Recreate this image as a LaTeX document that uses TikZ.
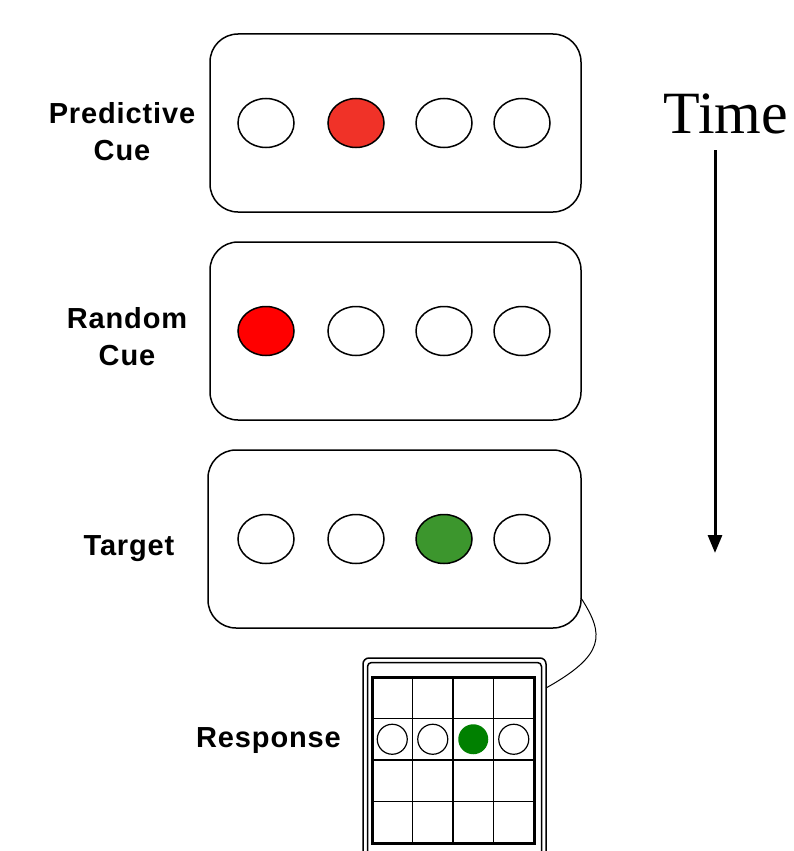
\documentclass[tikz,border=0pt]{standalone}
\usepackage{fontspec}
\setmainfont{Liberation Serif}
\newfontfamily\cuefont[LetterSpace=3]{Liberation Sans}
\usepackage{tikz}
\usetikzlibrary{matrix,shapes.geometric,arrows.meta}

\definecolor{cuered}{RGB}{240,50,40}
\definecolor{purered}{RGB}{255,0,0}
\definecolor{hitgreen}{RGB}{60,150,45}
\definecolor{keygreen}{RGB}{0,128,0}

\tikzset{
  panel/.style={draw, line width=1.5pt, rounded corners=28pt, minimum width=371pt, minimum height=178pt},
  spot/.style={draw, ellipse, line width=1.5pt, minimum width=56pt, minimum height=49pt, inner sep=0pt},
  tag/.style={font=\cuefont\bfseries\fontsize{29}{37}\selectfont, align=center},
}

\begin{document}
\begin{tikzpicture}[x=1pt,y=-1pt]
\useasboundingbox (0,0) rectangle (793,851);

% screens
\node[panel] (pred) at (395.5,123) {};
\node[panel] (rand) at (395.5,331) {};
\node[panel, minimum width=373pt] (targ) at (394.5,539) {};

\node[spot] (pred-1) at (266,123) {};
\node[spot, fill=cuered] (pred-2) at (356,123) {}; % cued place
\node[spot] (pred-3) at (444,123) {};
\node[spot] (pred-4) at (522,123) {};

\node[spot, fill=purered] (rand-1) at (266,331) {}; % cued place
\node[spot] (rand-2) at (356,331) {};
\node[spot] (rand-3) at (444,331) {};
\node[spot] (rand-4) at (522,331) {};

\node[spot] (targ-1) at (266,539) {};
\node[spot] (targ-2) at (356,539) {};
\node[spot, fill=hitgreen] (targ-3) at (444,539) {}; % target place
\node[spot] (targ-4) at (522,539) {};

\node[tag] (predlabel) at (122,132) {Predictive\\Cue};
\node[tag] (randlabel) at (127,337) {Random\\Cue};
\node[tag, anchor=base] (targlabel) at (129,555) {Target};
\node[tag, anchor=base] (resplabel) at (268.5,747) {Response};

% time axis
\node[font=\fontsize{60}{60}\selectfont, anchor=base] (time) at (726,133) {Time};
\coordinate (tstart) at (715,150);
\coordinate (tend) at (715,553);
\draw[line width=3pt, -{Triangle[length=18pt,width=14pt]}] (tstart) -- (tend);

% keypad
\matrix (pad) [matrix of nodes, nodes in empty cells,
  nodes={draw, line width=1.5pt, minimum width=40.5pt, minimum height=41.5pt, inner sep=0pt, outer sep=0pt},
  column sep=-1.5pt, row sep=-1.5pt] at (453,760)
{
  & & & \\
  & & & \\
  & & & \\
  & & & \\
};
\draw[line width=3pt] (pad-1-1.north west) rectangle (pad-4-4.south east);
\draw[line width=1.2pt] (pad-2-1.center) circle(15pt); % key 1
\draw[line width=1.2pt] (pad-2-2.center) circle(15pt); % key 2
\fill[keygreen] (pad-2-3.center) circle(15pt); % key 3
\draw[line width=1.2pt] (pad-2-4.center) circle(15pt); % key 4

\draw[line width=1.5pt, rounded corners=6pt] (363,870) |- (546,658) -- (546,870);
\draw[line width=1.5pt, rounded corners=4pt] (367.5,870) |- (541.5,662.5) -- (541.5,870);

% cable
\coordinate (jack) at (581,598);
\coordinate (plug) at (546,688);
\draw[line width=1pt] (jack) .. controls (605,635) and (605,655) .. (plug);
\end{tikzpicture}
\end{document}
